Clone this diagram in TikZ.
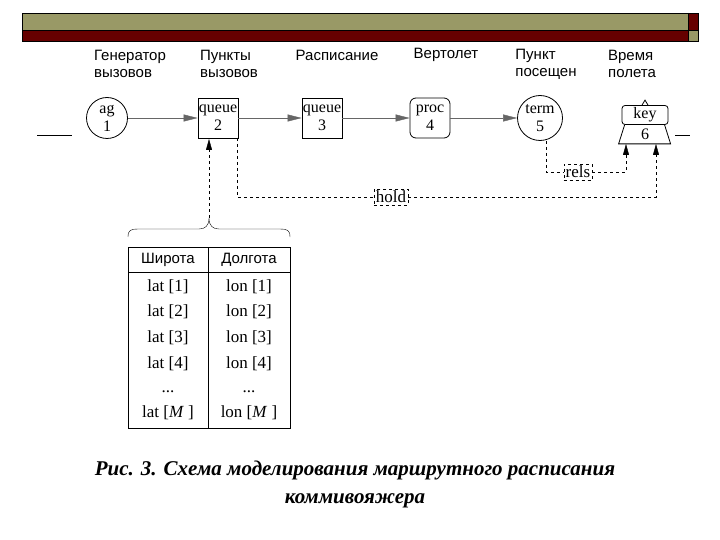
\documentclass[tikz,border=0pt]{standalone}
\usepackage{fontspec}
\setmainfont{Liberation Serif}
\newfontfamily\lsans{Liberation Sans}
\usetikzlibrary{arrows.meta,shapes.geometric}
\definecolor{olive}{RGB}{153,153,102}
\definecolor{dred}{RGB}{102,0,0}
\begin{document}
\begin{tikzpicture}[x=1pt,y=-1pt,
  lab/.style={font=\lsans\fontsize{15}{17}\selectfont,align=left,anchor=center,inner sep=0pt},
  nd/.style={draw,thick,align=center,font=\fontsize{16}{18}\selectfont,inner sep=0pt},
  arr/.style={-{Triangle[length=14pt,width=7pt]},gray!80!black},
  darr/.style={dashed,thin,-{Triangle[length=11pt,width=6pt]}},
  dsh/.style={dashed,thin},
  dbox/.style={draw,dashed,font=\fontsize{17}{17}\selectfont,inner sep=2pt},
  cell/.style={font=\fontsize{17}{17}\selectfont},
  hcell/.style={font=\lsans\fontsize{15}{17}\selectfont}]
\useasboundingbox (0,0) rectangle (720,540);
\fill[olive] (22,13) rectangle (688,30);
\fill[dred] (22,30) rectangle (688,41);
\fill[dred] (688,13) rectangle (698,30);
\fill[olive] (688,30) rectangle (698,41);
\draw[thin] (22,13) rectangle (698,41) (22,30)--(698,30) (688,13)--(688,41);
% labels
\node[lab] (l1) at (130,64) {Генератор\\вызовов};
\node[lab] (l2) at (229,64) {Пункты\\вызовов};
\node[lab] (l3) at (337,55) {Расписание};
\node[lab] (l4) at (446,55) {Вертолет};
\node[lab] (l5) at (546,64) {Пункт\\посещен};
\node[lab] (l6) at (632,64) {Время\\полета};
% nodes
\node[nd,circle,minimum size=41pt] (ag) at (107,118) {ag\\1};
\node[nd,minimum size=40pt] (q2) at (218,118) {queue\\2};
\node[nd,minimum size=40pt] (q3) at (322,118) {queue\\3};
\node[nd,rounded corners=6pt,minimum size=40pt] (proc) at (430,118) {proc\\4};
\node[nd,circle,minimum size=45pt] (term) at (540,118) {term\\5};
\node[nd,rounded corners=3pt,minimum width=46pt,minimum height=19pt] (key) at (645,115) {key};
\draw[thick] (key.south west) ++(3,0) -- ++(-6,19) -- ++(52,0) -- ++(-6,-19);
\node[font=\fontsize{16}{17}\selectfont] (six) at (645,134) {6};
\draw[thick] (key.north) ++(-3,0) -- ++(3,-5) -- ++(3,5);
\draw (37,135) -- (72,135);
\draw (675,135) -- (690,135);
% arrows
\draw[arr] (ag) -- (q2);
\draw[arr] (q2) -- (q3);
\draw[arr] (q3) -- (proc);
\draw[arr] (proc) -- (term);
% dashed
\node[dbox] (hold) at (391,197) {hold};
\node[dbox] (rels) at (578,172) {rels};
\draw[dsh] (237,138) |- (hold.west);
\draw[darr] (hold.east) -| (656,144);
\draw[dsh] (term.south) ++(6,0) |- (rels.west);
\draw[darr] (rels.east) -| (626,144);
% brace and table
\coordinate (bt) at (209,218);
\draw (128,237) .. controls (128,230) and (131,229) .. (138,229) -- (199,229)
  .. controls (205,229) and (209,226) .. (bt)
  .. controls (209,226) and (213,229) .. (219,229) -- (280,229)
  .. controls (287,229) and (290,230) .. (290,237);
\draw[darr] (bt) -- (209,139);
\draw[thick] (128,247) rectangle (290,428);
\draw[thick] (128,272) -- (290,272);
\draw[thick] (208,247) -- (208,428);
\node[hcell] (h1) at (168,260) {Широта};
\node[hcell] (h2) at (249,260) {Долгота};
\foreach \i/\y in {1/287,2/312,3/338,4/364}{
  \node[cell] (a\i) at (168,\y) {lat [\i]};
  \node[cell] (b\i) at (249,\y) {lon [\i]};}
\node[cell] (a5) at (168,392) {...};
\node[cell] (b5) at (249,392) {...};
\node[cell] (a6) at (168,413) {lat [\textit{M} ]};
\node[cell] (b6) at (249,413) {lon [\textit{M} ]};
% caption
\node[font=\bfseries\itshape\fontsize{21}{28}\selectfont,align=center] (cap) at (355,484) {Рис. 3. Схема моделирования маршрутного расписания\\коммивояжера};
\end{tikzpicture}
\end{document}
